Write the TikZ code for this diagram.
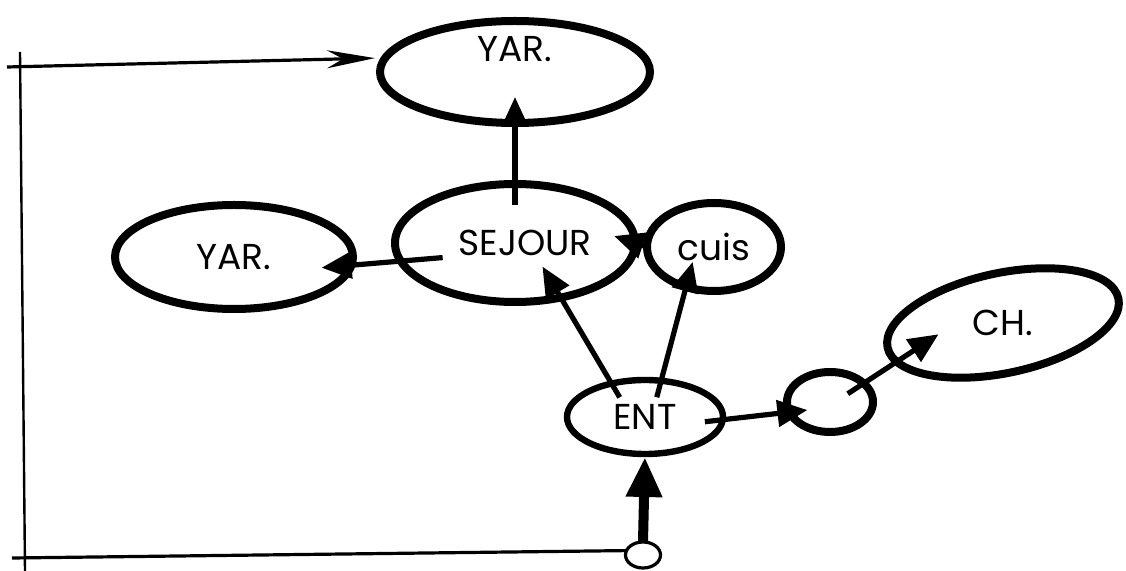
\documentclass[tikz,border=0pt]{standalone}
\usepackage{fontspec}
\setmainfont{Poppins}
\usetikzlibrary{arrows.meta, shapes.geometric}
\tikzset{
  every picture/.style={line width=2.5pt},
  room/.style 2 args={draw, ellipse, line width=4pt, inner sep=0pt, outer sep=0pt,
    minimum width=#1, minimum height=#2, font=\fontsize{18}{20}\selectfont},
  link/.style={-{Triangle[length=15pt,width=13pt]}, line width=2.6pt},
  feed/.style={line width=1.6pt},
}

\begin{document}
\begin{tikzpicture}[x=0.5pt, y=-0.5pt]
  \useasboundingbox (0,0) rectangle (1126,571);
  % rooms
  \node[room={135pt}{51pt}] (yartop) at (515,72) {\raisebox{5pt}[0pt][0pt]{YAR.}};
  \node[room={119pt}{52pt}] (yarleft) at (234,257) {YAR.\hspace{14pt}};
  \node[room={120pt}{59pt}] (sejour) at (515,243) {\hspace{10pt}SEJOUR};
  \node[room={67pt}{44pt}] (cuis) at (714,247) {cuis};
  \node[room={78pt}{37pt}, line width=3.2pt] (ent) at (645,417) {ENT};
  \node[room={43pt}{30pt}] (hall) at (830,402) {};
  \node[room={118pt}{50pt}, rotate=12] (ch) at (1003,323) {\rotatebox{-12}{CH.}};
  \node[room={17.5pt}{13pt}, line width=1.6pt] (entry) at (643,555) {};
  % links between rooms
  \draw[link, shorten <=-10.5pt, shorten >=-13pt] (sejour.north) -- (yartop.south);
  \draw[link, shorten <=-21pt, shorten >=-15pt] (sejour.189) -- (yarleft.-4);
  \draw[link, shorten >=-11pt] (cuis.west) -- (sejour.east);
  \draw[link, shorten <=-8pt, shorten >=-18pt] (ent.135) -- (sejour.-50);
  \draw[link, shorten <=-8.5pt, shorten >=-13pt] (ent.66) -- (cuis.235);
  \draw[link, shorten <=-9pt, shorten >=-9pt] (ent.-2) -- (hall.194);
  \draw[link, shorten <=-9.5pt, shorten >=-25pt] (hall.29) -- (ch.188);
  \draw[-{Triangle[length=20pt,width=17pt]}, line width=5pt, shorten >=1.5pt] (entry.north) -- (ent.south);
  % feedback loop on the left
  \coordinate (railtop) at (20,52);
  \coordinate (railbot) at (25,571);
  \coordinate (feedtl) at (7,67);
  \coordinate (feedbl) at (12,558);
  \draw[feed, line width=1.2pt] (railtop) -- (railbot);
  \draw[feed, -{Stealth[length=24pt,width=9pt,inset=8pt]}, shorten >=2.5pt] (feedtl) -- ([yshift=7pt]yartop.west);
  \draw[feed] (entry.165) -- (feedbl);
\end{tikzpicture}
\end{document}
